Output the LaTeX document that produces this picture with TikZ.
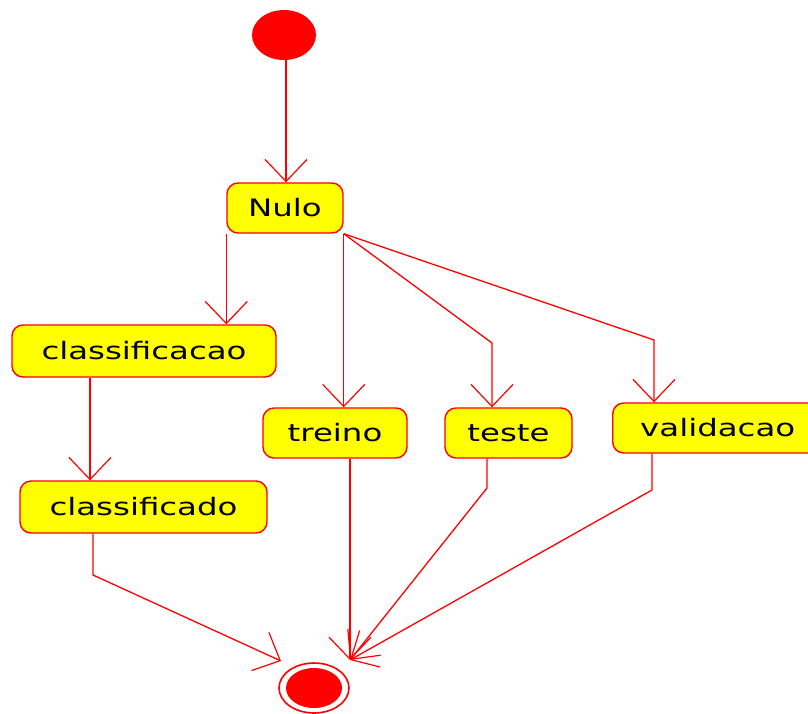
\documentclass[tikz,border=0pt]{standalone}
\usepackage{fontspec}
\newfontfamily\umlfont[FakeStretch=1.35]{DejaVu Sans}
\usetikzlibrary{arrows.meta,shapes.geometric}
\definecolor{umlred}{RGB}{255,0,0}
\definecolor{umlyellow}{RGB}{255,255,0}
\tikzset{
  state/.style={draw=umlred, fill=umlyellow, line width=1.4pt, rounded corners=11pt,
    inner sep=0pt, font=\umlfont\fontsize{24}{28}\selectfont, text=black},
  flow/.style={draw=umlred, line width=1.3pt,
    -{Straight Barb[length=22pt,width=42pt,line width=1.2pt]}},
  plain/.style={draw=umlred, line width=1.3pt}
}
\begin{document}
\begin{tikzpicture}[x=1pt,y=-1pt]
\useasboundingbox (0,0) rectangle (808,713);
% start
\node[ellipse, fill=umlred, minimum width=64pt, minimum height=50pt, inner sep=0pt] (start) at (284,35) {};
% end
\node[ellipse, draw=umlred, line width=1.6pt, fill=white, minimum width=70pt, minimum height=50pt, inner sep=0pt] (end) at (314,688) {};
\node[ellipse, fill=umlred, minimum width=56pt, minimum height=40pt, inner sep=0pt] (endin) at (314,688) {};
% states
\node[state, minimum width=116pt, minimum height=50pt] (nulo) at (285,208) {Nulo};
\node[state, minimum width=264pt, minimum height=52pt] (classificacao) at (144,351) {classificacao};
\node[state, minimum width=247pt, minimum height=52pt] (classificado) at (143.5,507) {classificado};
\node[state, minimum width=144pt, minimum height=50pt] (treino) at (335,433) {treino};
\node[state, minimum width=127pt, minimum height=50pt] (teste) at (508.5,433) {teste};
\node[state, minimum width=210pt, minimum height=50pt, anchor=west] (validacao) at (612,428) {validacao};
% bend coordinates
\coordinate (s0) at (286,60);
\coordinate (tb) at (492,343);
\coordinate (vb) at (654,340);
\coordinate (cx) at (90,0);
\coordinate (cb) at (93,575);
\coordinate (etipA) at (281,661);
\coordinate (etipB) at (350,660);
\coordinate (tb2) at (487,488);
\coordinate (vb2) at (652,490);
% connectors
\draw[flow] (s0) -- (s0 |- nulo.north);
\draw[flow] (nulo.south west) -- (nulo.south west |- classificacao.north);
\draw[flow] (nulo.south east) -- (nulo.south east |- treino.north);
\draw[flow] (nulo.south east) -- (tb) -- (tb |- teste.north);
\draw[flow] (nulo.south east) -- (vb) -- (vb |- validacao.north);
\draw[flow] (cx |- classificacao.south) -- (cx |- classificado.north);
\draw[flow] (cb |- classificado.south) -- (cb) -- (etipA);
\draw[flow] (etipB |- treino.south) -- (etipB);
\draw[flow] (tb2 |- teste.south) -- (tb2) -- (etipB);
\draw[flow] (vb2 |- validacao.south) -- (vb2) -- (etipB);
\end{tikzpicture}
\end{document}
